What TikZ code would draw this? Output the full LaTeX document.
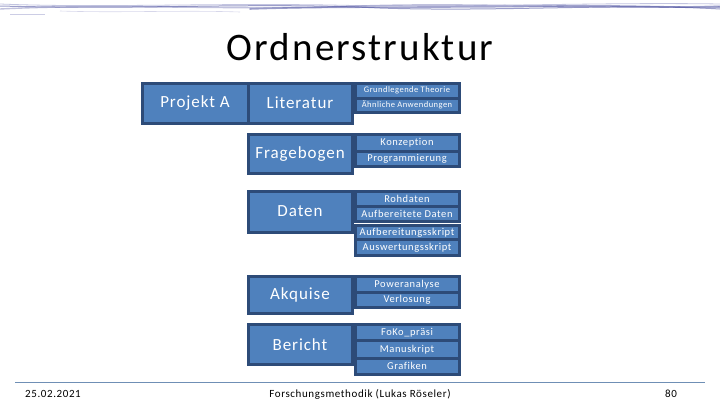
\documentclass[tikz,border=0pt]{standalone}
\usepackage{fontspec}
\setmainfont{Carlito}[LetterSpace=5.5, Ligatures=NoCommon]
\definecolor{boxfill}{HTML}{4F81BD}
\definecolor{boxline}{HTML}{2D4B78}
\definecolor{footline}{HTML}{6F8FB5}
\definecolor{scribble}{HTML}{4A4E9E}
\definecolor{scribblelight}{HTML}{9A9CCB}
\tikzset{
  basebox/.style={draw=boxline, fill=boxfill, line width=3pt, inner sep=0pt, outer sep=0pt, text=white},
  mainbox/.style={basebox, minimum width=104pt, font=\fontsize{17}{20}\selectfont},
  subbox/.style={basebox, minimum width=104pt, font=\fontsize{10.5}{12}\selectfont},
  tinybox/.style={basebox, minimum width=104pt, font=\fontsize{8.5}{10}\selectfont},
  foot/.style={font=\fontsize{11}{13}\selectfont, text=black, inner sep=0pt},
  scrib/.style={scribble, line cap=round}
}
\begin{document}
\begin{tikzpicture}[x=1pt, y=-1pt]
\useasboundingbox (0,0) rectangle (720,405);
% header scribble
\draw[scrib, opacity=0.35, line width=1.4pt] (0,9) .. controls (120,3) and (240,11) .. (360,6) .. controls (480,2) and (600,10) .. (720,6);
\draw[scrib, opacity=0.55, line width=1pt] (0,6) .. controls (150,10) and (250,2) .. (380,8) .. controls (500,12) and (620,3) .. (720,9);
\draw[scrib, opacity=0.5, line width=1.6pt] (250,9) .. controls (330,6) and (420,8) .. (560,6) .. controls (620,5) and (680,8) .. (720,7);
\draw[scribblelight, opacity=0.6, line width=0.8pt] (0,4) .. controls (100,8) and (200,3) .. (330,5) .. controls (450,8) and (600,2) .. (720,4);
\draw[scribblelight, opacity=0.5, line width=0.6pt] (10,14) -- (45,14);
\draw[scribblelight, opacity=0.4, line width=0.6pt] (60,11) .. controls (120,13) and (180,10) .. (240,12);
% title
\node[anchor=base, font=\fontsize{39}{44}\selectfont, inner sep=0pt] (title) at (360,60) {Ordnerstruktur};
% main boxes
\node[mainbox, minimum width=106pt, minimum height=40pt] (projekt) at (195,103) {Projekt A};
\node[mainbox, minimum height=40pt] (literatur) at (300,103) {Literatur};
\node[mainbox, minimum height=39pt] (frage) at (300,154) {Fragebogen};
\node[mainbox, minimum height=41pt] (daten) at (300,211.5) {Daten};
\node[mainbox, minimum height=37pt] (akquise) at (300,295) {Akquise};
\node[mainbox, minimum height=40pt] (bericht) at (300,344.5) {Bericht};
% sub boxes
\node[tinybox, minimum height=14.5pt] (theorie) at (407,90.75) {Grundlegende Theorie};
\node[tinybox, minimum height=14.5pt] (anwend) at (407,105.25) {Ähnliche Anwendungen};
\node[subbox, minimum height=16.5pt] (konz) at (407,142.75) {Konzeption};
\node[subbox, minimum height=15.5pt] (prog) at (407,158.75) {Programmierung};
\node[subbox, minimum height=14.5pt] (roh) at (407,198.75) {Rohdaten};
\node[subbox, minimum height=15.5pt] (aufb) at (407,213.75) {Aufbereitete Daten};
\node[subbox, minimum height=14pt] (askript) at (407,232.5) {Aufbereitungsskript};
\node[subbox, minimum height=16pt] (auskript) at (407,247.5) {Auswertungsskript};
\node[subbox, minimum height=16pt] (power) at (407,284.5) {Poweranalyse};
\node[subbox, minimum height=15pt] (verl) at (407,300) {Verlosung};
\node[subbox, minimum height=16pt] (foko) at (407,332.5) {FoKo\_präsi};
\node[subbox, minimum height=17.5pt] (manu) at (407,349.25) {Manuskript};
\node[subbox, minimum height=16.5pt] (graf) at (407,366.25) {Grafiken};
% footer
\coordinate (fl) at (15,382);
\coordinate (fr) at (705,382);
\draw[footline, line width=0.9pt] (fl) -- (fr);
\node[foot, anchor=west] (date) at (25,394) {25.02.2021};
\node[foot] (course) at (360,394) {Forschungsmethodik (Lukas Röseler)};
\node[foot] (page) at (671,394) {80};
\end{tikzpicture}
\end{document}
